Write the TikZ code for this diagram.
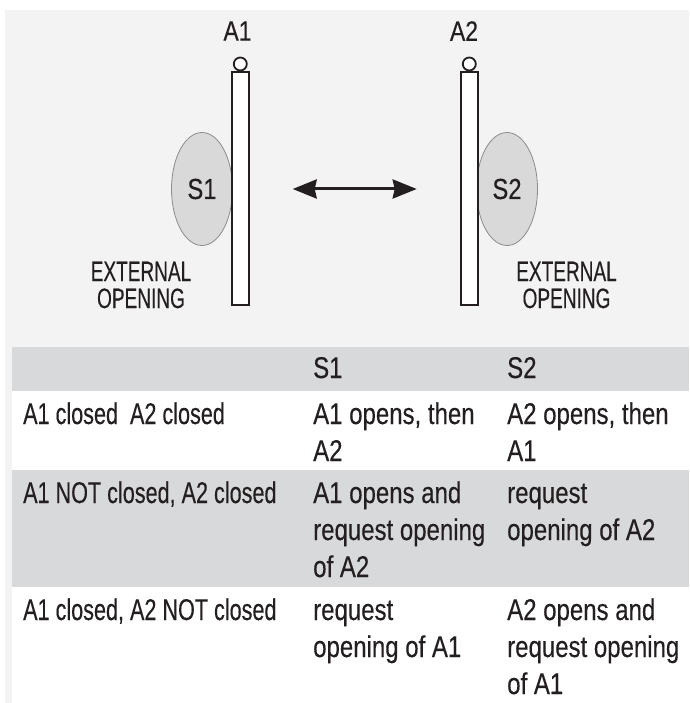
\documentclass[tikz,border=0pt]{standalone}
\usepackage{fontspec}
\setmainfont{Liberation Sans}
\newfontfamily\rowfont[FakeStretch=0.72,FakeBold=0.3]{Liberation Sans}
\newfontfamily\cellfont[FakeStretch=0.80,FakeBold=0.3]{Liberation Sans}
\newfontfamily\sidefont[FakeStretch=0.68,FakeBold=0.3]{Liberation Sans}
\newfontfamily\tagfont[FakeStretch=0.82,FakeBold=0.3]{Liberation Sans}
\usetikzlibrary{shapes.geometric,arrows.meta}
\definecolor{ink}{HTML}{231F20}
\definecolor{panel}{HTML}{F3F3F3}
\definecolor{band}{HTML}{D8D9DB}
\definecolor{sensorgray}{HTML}{D9D9D9}

\begin{document}
\begin{tikzpicture} [
            x=1pt, y=-1pt,
            every node/.style = {inner sep=0pt, text=ink},
            door/.style = {draw=ink, line width=2pt, fill=white, rectangle,
                minimum width=17.5pt, minimum height=233pt},
            knob/.style = {draw=ink, line width=1.8pt, fill=white, circle, minimum size=13pt},
            sensor/.style = {draw=black!45, line width=0.8pt, fill=sensorgray, ellipse,
                minimum width=61pt, minimum height=113pt, font=\tagfont\fontsize{29}{30}\selectfont},
            tag/.style = {font=\tagfont\fontsize{28}{30}\selectfont},
            side/.style = {anchor=base, align=center, font=\sidefont\fontsize{28}{27}\selectfont},
            rowhead/.style = {anchor=base west, align=left, font=\rowfont\fontsize{30}{37}\selectfont},
            cell/.style = {anchor=base west, align=left, font=\cellfont\fontsize{30}{37}\selectfont},
        ]

            \useasboundingbox (0,0) rectangle (689,703);
            \fill[white] (0,0) rectangle (689,703);
            \fill[panel] (5,10) rectangle (689,703);

            % table bands
            \fill[band]  (12,347) rectangle (689,391);
            \fill[white] (12,391) rectangle (689,470);
            \fill[band]  (12,470) rectangle (689,587);
            \fill[white] (12,587) rectangle (689,703);

            % sensors, under the doors
            \node[sensor] (S1) at (202,189) {S1};
            \node[sensor] (S2) at (507,189) {S2};

            \node[door] (A1door) at (240.3,188.5) {};
            \node[door] (A2door) at (469.3,188.5) {};
            \node[knob] (A1knob) at (240.3,64) {};
            \node[knob] (A2knob) at (469.3,64) {};
            \node[tag]  (A1) at (237.5,31) {A1};
            \node[tag]  (A2) at (464,31) {A2};

            % base = last line
            \node[side] (ext1) at (141,308) {EXTERNAL\\OPENING};
            \node[side] (ext2) at (566.5,308) {EXTERNAL\\OPENING};

            \coordinate (arrL) at (292.7,189);
            \coordinate (arrR) at (416.7,189);
            \draw[line width=3pt, draw=ink,
                {Stealth[length=24pt,width=19pt,inset=2pt]}-{Stealth[length=24pt,width=19pt,inset=2pt]}]
                (arrL) -- (arrR);

            % table, each cell placed at the baseline of its last line
            \node[cell] (h1) at (313,378) {S1};
            \node[cell] (h2) at (507,378) {S2};

            \node[rowhead] (r1)   at (23,424)  {A1 closed~~A2 closed};
            \node[cell]    (r1s1) at (313,461) {A1 opens, then\\A2};
            \node[cell]    (r1s2) at (507,461) {A2 opens, then\\A1};

            \node[rowhead] (r2)   at (23,503)  {A1 NOT closed, A2 closed};
            \node[cell]    (r2s1) at (313,577) {A1 opens and\\request opening\\of A2};
            \node[cell]    (r2s2) at (507,540) {request\\opening of A2};

            \node[rowhead] (r3)   at (23,620)  {A1 closed, A2 NOT closed};
            \node[cell]    (r3s1) at (313,657) {request\\opening of A1};
            \node[cell]    (r3s2) at (507,694) {A2 opens and\\request opening\\of A1};
        \end{tikzpicture}
\end{document}
